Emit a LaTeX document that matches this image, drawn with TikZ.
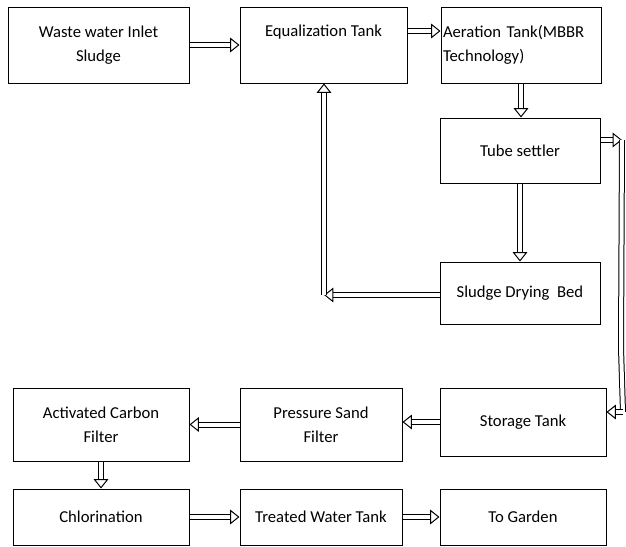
\documentclass[tikz,border=0pt]{standalone}
\usepackage{fontspec}
\setmainfont{Carlito}
\usetikzlibrary{arrows.meta}

\tikzset{
	box/.style = {draw, line width = 0.75pt, inner sep = 2pt, align = center, font = \fontsize{12.5}{18}\selectfont},
	pipe/.style = {double, double distance = 3pt, line width = 0.75pt},
	flow/.style = {pipe, -{Triangle[open, length = 7pt, width = 11pt]}}
}

\begin{document}
\begin{tikzpicture}[x = 0.75pt, y = -0.75pt]
	\useasboundingbox (0, 0) rectangle (626, 547);

	\node[box, minimum width = 135.75pt, minimum height = 57pt](inlet) at (98.5, 45){Waste water Inlet\\Sludge};
	\node[box, minimum width = 125.25pt, minimum height = 57pt, text depth = 21pt](equal) at (323.5, 45){Equalization Tank};
	\node[box, minimum width = 120pt, minimum height = 57pt, align = left, text width = 117pt, inner xsep = 1pt](aer) at (521, 45){Aeration Tank(MBBR\\Technology)};
	\node[box, minimum width = 120pt, minimum height = 48.75pt](tube) at (520, 150.5){Tube settler};
	\node[box, minimum width = 120pt, minimum height = 46.5pt](sludge) at (520, 293){Sludge Drying\ \ Bed};

	\node[box, minimum width = 132pt, minimum height = 54.75pt](carbon) at (101, 424.5){Activated Carbon\\Filter};
	\node[box, minimum width = 121.5pt, minimum height = 54.75pt](sand) at (321, 424.5){Pressure Sand\\Filter};
	\node[box, minimum width = 124.5pt, minimum height = 51pt](storage) at (523, 422){Storage Tank};
	\node[box, minimum width = 132pt, minimum height = 42pt](chlor) at (101, 517){Chlorination};
	\node[box, minimum width = 121.5pt, minimum height = 42pt](treated) at (321, 517){Treated Water Tank};
	\node[box, minimum width = 124.5pt, minimum height = 42pt](garden) at (523, 517){To Garden};

	\coordinate[](back) at (324, 295);
	\coordinate[](turn1) at (622, 140);
	\coordinate[](turn2) at (621, 348);
	\coordinate[](turn3) at (623, 412);

	\draw[flow] (inlet) -- (equal);
	\draw[flow] ([yshift = 10.5pt]equal.east) -- ([yshift = 10.5pt]aer.west);
	\draw[flow] (aer.south) -- (aer.south |- tube.north);
	\draw[flow] (tube) -- (sludge);
	\draw[flow] (sludge.west |- back) -- (back);
	\draw[flow] (back) -- (back |- equal.south);

	\draw[flow] (tube.east |- turn1) -- (turn1);
	\draw[pipe] (turn1) -- (turn2) -- (turn3);
	\draw[flow] (turn3) -- (storage.east |- turn3);

	\draw[flow] (storage.west) -- (storage.west -| sand.east);
	\draw[flow] (sand) -- (carbon);
	\draw[flow] (carbon) -- (chlor);
	\draw[flow] (chlor) -- (treated);
	\draw[flow] (treated) -- (garden);
\end{tikzpicture}
\end{document}
